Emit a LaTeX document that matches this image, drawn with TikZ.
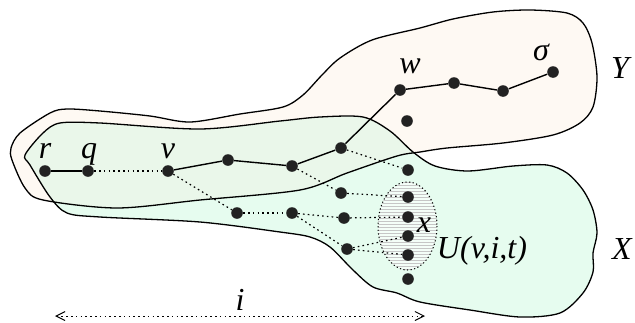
\documentclass[tikz,border=0pt]{standalone}
\usepackage{fontspec}
\setmainfont{Liberation Serif}
\usetikzlibrary{arrows.meta}
\definecolor{ycol}{HTML}{FEF9F3}
\definecolor{xcol}{HTML}{E6FCEF}
\definecolor{xycol}{HTML}{EAF7EA}
\definecolor{dotcol}{HTML}{222222}
\tikzset{
  dot/.style={circle, fill=dotcol, inner sep=0pt, minimum size=5.8pt},
  lab/.style={anchor=base, inner sep=0pt, font=\fontsize{16}{19}\selectfont\itshape},
  sline/.style={line width=0.7pt, black},
  dline/.style={line width=0.6pt, black, dash pattern=on 0.8pt off 1.6pt},
  outl/.style={line width=0.65pt, black},
}
\begin{document}
\begin{tikzpicture}[x=0.5pt, y=-0.5pt]
\useasboundingbox (0,0) rectangle (635,322);
% Y region fill
\fill[ycol] plot[smooth cycle, tension=0.5] coordinates {(11,148) (20,133) (50,113) (67,109) (100,111) (150,116) (190,122) (240,114) (283,107) (303,95) (322,75) (340,58) (372,40) (420,28) (453,19) (493,12) (530,10) (567,13) (583,23) (592,43) (597,77) (593,107) (580,123) (553,135) (503,143) (447,148) (420,152) (397,156) (347,173) (300,190) (200,200) (117,208) (43,200) (25,188) (12,160)};
% X region fill
\fill[xcol] plot[smooth cycle, tension=0.5] coordinates {(25,155) (43,133) (60,123) (100,123) (200,129) (280,121) (320,117) (363,117) (390,131) (413,152) (435,166) (468,171) (513,166) (547,165) (567,173) (583,190) (593,210) (597,233) (593,253) (593,272) (583,293) (560,313) (520,317) (470,310) (420,302) (397,293) (373,287) (353,270) (330,247) (310,237) (280,232) (200,222) (100,217) (67,213) (50,197) (30,165)};
% overlap
\begin{scope}
\clip plot[smooth cycle, tension=0.5] coordinates {(25,155) (43,133) (60,123) (100,123) (200,129) (280,121) (320,117) (363,117) (390,131) (413,152) (435,166) (468,171) (513,166) (547,165) (567,173) (583,190) (593,210) (597,233) (593,253) (593,272) (583,293) (560,313) (520,317) (470,310) (420,302) (397,293) (373,287) (353,270) (330,247) (310,237) (280,232) (200,222) (100,217) (67,213) (50,197) (30,165)};
\fill[xycol] plot[smooth cycle, tension=0.5] coordinates {(11,148) (20,133) (50,113) (67,109) (100,111) (150,116) (190,122) (240,114) (283,107) (303,95) (322,75) (340,58) (372,40) (420,28) (453,19) (493,12) (530,10) (567,13) (583,23) (592,43) (597,77) (593,107) (580,123) (553,135) (503,143) (447,148) (420,152) (397,156) (347,173) (300,190) (200,200) (117,208) (43,200) (25,188) (12,160)};
\end{scope}
% outlines
\draw[outl] plot[smooth cycle, tension=0.5] coordinates {(11,148) (20,133) (50,113) (67,109) (100,111) (150,116) (190,122) (240,114) (283,107) (303,95) (322,75) (340,58) (372,40) (420,28) (453,19) (493,12) (530,10) (567,13) (583,23) (592,43) (597,77) (593,107) (580,123) (553,135) (503,143) (447,148) (420,152) (397,156) (347,173) (300,190) (200,200) (117,208) (43,200) (25,188) (12,160)};
\draw[outl] plot[smooth cycle, tension=0.5] coordinates {(25,155) (43,133) (60,123) (100,123) (200,129) (280,121) (320,117) (363,117) (390,131) (413,152) (435,166) (468,171) (513,166) (547,165) (567,173) (583,190) (593,210) (597,233) (593,253) (593,272) (583,293) (560,313) (520,317) (470,310) (420,302) (397,293) (373,287) (353,270) (330,247) (310,237) (280,232) (200,222) (100,217) (67,213) (50,197) (30,165)};
% hatched ellipse U(v,i,t)
\fill[white!55!xcol] (407.5,226) ellipse [x radius=29.5, y radius=44];
\begin{scope}
\clip (407.5,226) ellipse [x radius=29.5, y radius=44];
\foreach \k in {0,...,30} {
  \draw[gray!45, line width=0.35pt] (376,{182+3*\k}) -- (440,{182+3*\k});
}
\end{scope}
\draw[line width=0.5pt, black, dash pattern=on 0.6pt off 1.2pt] (407.5,226) ellipse [x radius=29.5, y radius=44];
% nodes
\node[dot] (r) at (45,171) {};
\node[dot] (q) at (88,171) {};
\node[dot] (v) at (168,171) {};
\node[dot] (a1) at (228,160) {};
\node[dot] (a2) at (292,166) {};
\node[dot] (a3) at (341,148) {};
\node[dot] (w) at (400,90) {};
\node[dot] (b1) at (454,83) {};
\node[dot] (b2) at (503,91) {};
\node[dot] (s) at (553,72) {};
\node[dot] (w2) at (407,121) {};
\node[dot] (c1) at (237,213) {};
\node[dot] (c2) at (292,213) {};
\node[dot] (d1) at (341,193) {};
\node[dot] (d2) at (344,218) {};
\node[dot] (d3) at (347,249) {};
\node[dot] (e0) at (408,170) {};
\node[dot] (e1) at (408,197) {};
\node[dot] (e2) at (408,217) {};
\node[dot] (e3) at (408,236) {};
\node[dot] (e4) at (408,255) {};
\node[dot] (e5) at (408,279) {};
% solid edges
\draw[sline] (r) -- (q);
\draw[sline] (v) -- (a1) -- (a2) -- (a3) -- (w) -- (b1) -- (b2) -- (s);
% dotted edges
\draw[dline] (q) -- (v);
\draw[dline] (v) -- (c1);
\draw[dline] (c1) -- (c2);
\draw[dline] (a2) -- (d1);
\draw[dline] (a3) -- (e0);
\draw[dline] (c2) -- (d2);
\draw[dline] (c2) -- (d3);
\draw[dline] (d1) -- (e1);
\draw[dline] (d2) -- (e2);
\draw[dline] (d3) -- (e3);
\draw[dline] (d3) -- (e4);
% labels
\node[lab] (lr) at (45,158) {r};
\node[lab] (lq) at (89,158) {q};
\node[lab] (lv) at (168,158) {v};
\node[lab] (lw) at (410,73) {w};
\node[lab] (ls) at (541,60) {σ};
\node[lab] (lY) at (620,78) {Y};
\node[lab] (lX) at (622,259) {X};
\node[lab] (lx) at (424,232) {x};
\node[lab] (lU) at (482,258) {U(v,i,t)};
\node[lab] (li) at (240,310) {i};
% distance arrow
\coordinate (al) at (55,316);
\coordinate (ar) at (425,316);
\draw[line width=0.5pt, dash pattern=on 0.8pt off 1.6pt, {Straight Barb[length=4.5pt,width=4.5pt]}-{Straight Barb[length=4.5pt,width=4.5pt]}] (al) -- (ar);
\end{tikzpicture}
\end{document}
